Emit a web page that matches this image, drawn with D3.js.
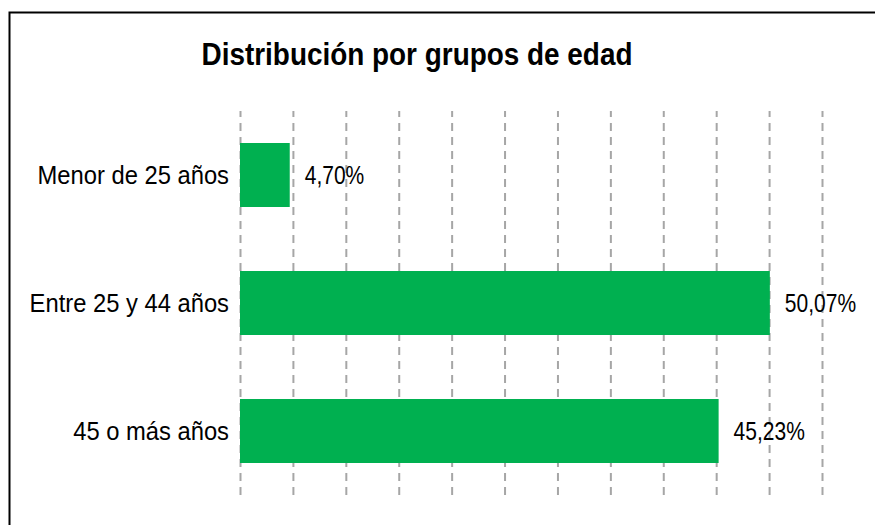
<!DOCTYPE html>
<html>
<head>
<meta charset="utf-8">
<script src="https://cdn.jsdelivr.net/npm/d3@7"></script>
<style>
  body { margin: 0; background: #fff; }
  svg text { font-family: "Liberation Sans", Arial, sans-serif; fill: #000; }
</style>
</head>
<body>
<div id="chart"></div>
<script>
var categories = ["Menor de 25 años", "Entre 25 y 44 años", "45 o más años"];
var values = [4.70, 50.07, 45.23];
var tickValues = [0, 5, 10, 15, 20, 25, 30, 35, 40, 45, 50, 55];
var titleText = "Distribución por grupos de edad";

var width = 875, height = 525;
var plotLeft = 240, plotRight = 822, plotTop = 111, plotBottom = 495;
var fmt = function(v){ return d3.format(".2f")(v).replace(".", ",") + "%"; };

var svg = d3.select("#chart").append("svg")
    .attr("width", width)
    .attr("height", height);

// frame (right and bottom edges fall outside the picture)
svg.append("rect")
    .attr("x", 9.5).attr("y", 12.5)
    .attr("width", 900).attr("height", 600)
    .attr("fill", "none")
    .attr("stroke", "#000")
    .attr("stroke-width", 2);

var x = d3.scaleLinear()
    .domain([0, 55])
    .range([plotLeft, plotRight]);

var y = d3.scaleBand()
    .domain(categories)
    .range([plotTop, plotBottom])
    .paddingInner(0.5)
    .paddingOuter(0.25);

// vertical dashed grid
var xAxis = d3.axisBottom(x)
    .tickValues(tickValues)
    .tickSize(-(plotBottom - plotTop))
    .tickFormat("");

var grid = svg.append("g")
    .attr("transform", "translate(0," + plotBottom + ")")
    .call(xAxis);
grid.select(".domain").remove();
grid.selectAll(".tick line")
    .attr("stroke", "#a6a6a6")
    .attr("stroke-width", 2)
    .attr("stroke-dasharray", "8,6");

// bars
svg.append("g").selectAll("rect")
    .data(values)
    .enter()
    .append("rect")
    .attr("x", x(0))
    .attr("y", function(d, i){ return y(categories[i]); })
    .attr("width", function(d){ return x(d) - x(0); })
    .attr("height", y.bandwidth())
    .attr("fill", "#00b050");

function squeeze(sel, k){
  sel.each(function(){
    var w = this.getComputedTextLength();
    d3.select(this).attr("textLength", w * k).attr("lengthAdjust", "spacingAndGlyphs");
  });
}

// category labels
svg.append("g").selectAll("text")
    .data(categories)
    .enter()
    .append("text")
    .attr("x", plotLeft - 11)
    .attr("y", function(d){ return y(d) + y.bandwidth() / 2; })
    .attr("dy", "0.36em")
    .attr("text-anchor", "end")
    .style("font-size", "25px")
    .text(function(d){ return d; })
    .call(squeeze, 0.95);

// value labels
svg.append("g").selectAll("text")
    .data(values)
    .enter()
    .append("text")
    .attr("x", function(d){ return x(d) + 15; })
    .attr("y", function(d, i){ return y(categories[i]) + y.bandwidth() / 2; })
    .attr("dy", "0.36em")
    .style("font-size", "25px")
    .text(fmt)
    .call(squeeze, 0.84);

// title
svg.append("text")
    .attr("x", 417)
    .attr("y", 65)
    .attr("text-anchor", "middle")
    .style("font-size", "31px")
    .style("font-weight", "bold")
    .text(titleText)
    .call(squeeze, 0.9);
</script>
</body>
</html>
